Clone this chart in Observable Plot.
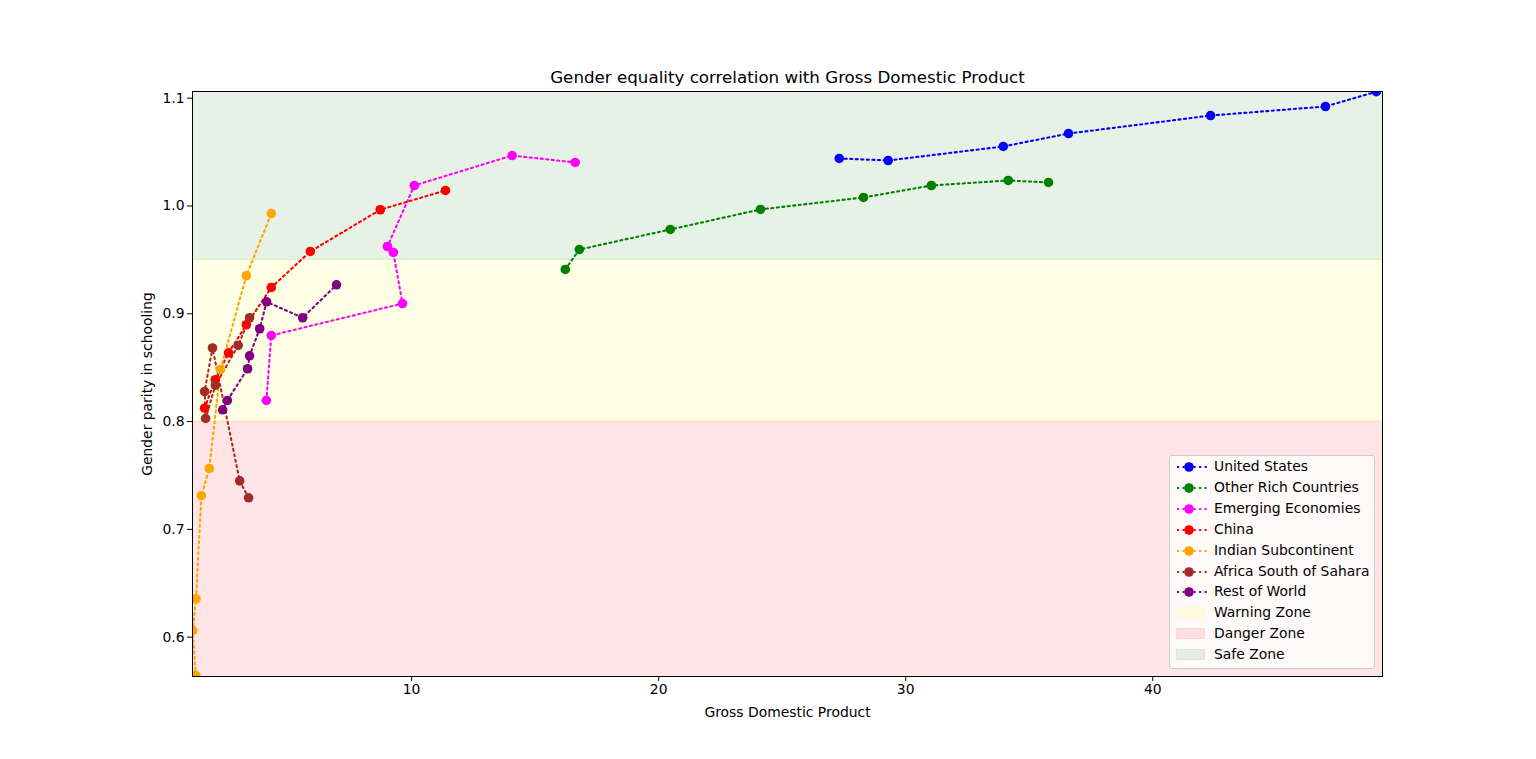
<!DOCTYPE html>
<html><head><meta charset="utf-8">
<script src="https://cdn.jsdelivr.net/npm/d3@7"></script>
<script src="https://cdn.jsdelivr.net/npm/@observablehq/plot@0.6"></script>
<style>
html,body{margin:0;padding:0;background:#fff;overflow:hidden;}
#wrap{position:relative;width:1536px;height:759px;font-family:"DejaVu Sans",sans-serif;}
#legend{position:absolute;left:1169px;top:455px;width:206px;height:214px;background:rgba(255,255,255,0.8);border:1px solid #cccccc;border-radius:3px;box-sizing:border-box;}
.row{position:absolute;left:0;width:200px;height:20px;font-size:13.9px;color:#000;}
.row svg{position:absolute;left:6px;top:0;}
.row span{position:absolute;left:44px;top:1px;white-space:nowrap;}
</style></head>
<body><div id="wrap"></div>
<script>
const seriesNames = ["United States","Other Rich Countries","Emerging Economies","China","Indian Subcontinent","Africa South of Sahara","Rest of World"];
const seriesColors = ["#0000ff","#008000","#ff00ff","#ff0000","#ffa500","#a52a2a","#800080"];

const usGdp = [27.31, 29.29, 33.95, 36.59, 42.34, 46.99, 49.05];
const usParity = [1.0441, 1.0422, 1.0552, 1.0672, 1.0839, 1.0923, 1.106];
const richGdp = [16.22, 16.79, 20.47, 24.12, 28.29, 31.04, 34.15, 35.78];
const richParity = [0.9411, 0.9596, 0.9782, 0.9968, 1.0079, 1.0190, 1.0237, 1.0218];
const emergingGdp = [4.12, 4.32, 9.63, 9.26, 9.02, 10.11, 14.07, 16.62];
const emergingParity = [0.8196, 0.8799, 0.9095, 0.9569, 0.9624, 1.0190, 1.0468, 1.0404];
const chinaGdp = [1.62, 2.05, 2.59, 3.31, 4.32, 5.90, 8.73, 11.37];
const chinaParity = [0.8124, 0.8388, 0.8638, 0.8898, 0.9244, 0.9578, 0.9965, 1.0144];
const indiaGdp = [1.26, 1.14, 1.27, 1.49, 1.81, 2.26, 3.31, 4.32];
const indiaParity = [0.5645, 0.6062, 0.6356, 0.7312, 0.7565, 0.8483, 0.9353, 0.993];
const africaGdp = [3.40, 3.04, 1.94, 1.62, 1.66, 2.06, 2.98, 3.44];
const africaParity = [0.7293, 0.745, 0.8683, 0.8279, 0.8029, 0.8338, 0.8706, 0.8963];
const restGdp = [2.35, 2.54, 3.36, 3.44, 3.85, 4.13, 5.59, 6.96];
const restParity = [0.8109, 0.8196, 0.8490, 0.8610, 0.8861, 0.9111, 0.8963, 0.9269];

const zoneNames = ["Warning Zone", "Danger Zone", "Safe Zone"];
const zoneColors = ["#ffff00", "#ff0000", "#008000"];
const zoneLow = [0.8, 0.4, 0.95];
const zoneHigh = [0.95, 0.8, 1.3];

const xTicks = [10, 20, 30, 40];
const yTicks = [0.6, 0.7, 0.8, 0.9, 1.0, 1.1];
const xDomain = [1.13, 49.3];
const yDomain = [0.5635, 1.1062];

const titleText = "Gender equality correlation with Gross Domestic Product";
const xLabel = "Gross Domestic Product";
const yLabel = "Gender parity in schooling";

const gdpSets = [usGdp, richGdp, emergingGdp, chinaGdp, indiaGdp, africaGdp, restGdp];
const paritySets = [usParity, richParity, emergingParity, chinaParity, indiaParity, africaParity, restParity];
const points = [];
seriesNames.forEach((s, i) => gdpSets[i].forEach((g, j) => points.push({series: s, gdp: g, parity: paritySets[i][j]})));
const zones = zoneNames.map((n, i) => ({name: n, color: zoneColors[i], lo: zoneLow[i], hi: zoneHigh[i]}));

const chart = Plot.plot({
  width: 1536, height: 759,
  marginLeft: 192, marginRight: 154, marginTop: 91, marginBottom: 83,
  style: {fontFamily: "'DejaVu Sans', sans-serif", fontSize: "13.9px", color: "#000", background: "#fff"},
  x: {domain: xDomain, ticks: xTicks, tickSize: 5, tickPadding: 3, label: null},
  y: {domain: yDomain, ticks: yTicks, tickSize: 5, tickPadding: 3, tickFormat: d3.format(".1f"), label: null},
  color: {domain: seriesNames, range: seriesColors},
  marks: [
    Plot.rect(zones, {x1: () => xDomain[0] - 5, x2: () => xDomain[1] + 5, y1: "lo", y2: "hi", fill: d => d.color, fillOpacity: 0.1, stroke: d => d.color, strokeOpacity: 0.1, clip: true}),
    Plot.line(points, {x: "gdp", y: "parity", z: "series", stroke: "series", strokeWidth: 2.08, strokeDasharray: "2.08,3.44", clip: true}),
    Plot.dot(points, {x: "gdp", y: "parity", fill: "series", r: 4.8, clip: true}),
    Plot.frame({stroke: "#000", strokeWidth: 1}),
    Plot.text([titleText], {text: d => d, frameAnchor: "top", lineAnchor: "middle", dy: -14, fontSize: 16.7}),
    Plot.text([xLabel], {text: d => d, frameAnchor: "bottom", lineAnchor: "middle", dy: 36, fontSize: 13.9}),
    Plot.text([yLabel], {text: d => d, frameAnchor: "left", textAnchor: "middle", lineAnchor: "middle", dx: -45, rotate: -90, fontSize: 13.9})
  ]
});
const wrap = document.getElementById("wrap");
wrap.appendChild(chart);

const legend = document.createElement("div");
legend.id = "legend";
const entries = seriesNames.map((n, i) => ({name: n, color: seriesColors[i], kind: "line"}))
  .concat(zoneNames.map((n, i) => ({name: n, color: zoneColors[i], kind: "patch"})));
entries.forEach((e, i) => {
  const row = document.createElement("div");
  row.className = "row";
  row.style.top = (1 + i * 20.9) + "px";
  let sw;
  if (e.kind === "line") {
    sw = `<svg width="32" height="20"><line x1="1" x2="31" y1="10" y2="10" stroke="${e.color}" stroke-width="2.08" stroke-dasharray="2.08,3.44"/><circle cx="13" cy="10" r="4.8" fill="${e.color}"/></svg>`;
  } else {
    sw = `<svg width="32" height="20"><rect x="0.5" y="4.5" width="28" height="10" fill="${e.color}" fill-opacity="0.1" stroke="${e.color}" stroke-opacity="0.1"/></svg>`;
  }
  row.innerHTML = sw + `<span>${e.name}</span>`;
  legend.appendChild(row);
});
wrap.appendChild(legend);
</script>
</body></html>
